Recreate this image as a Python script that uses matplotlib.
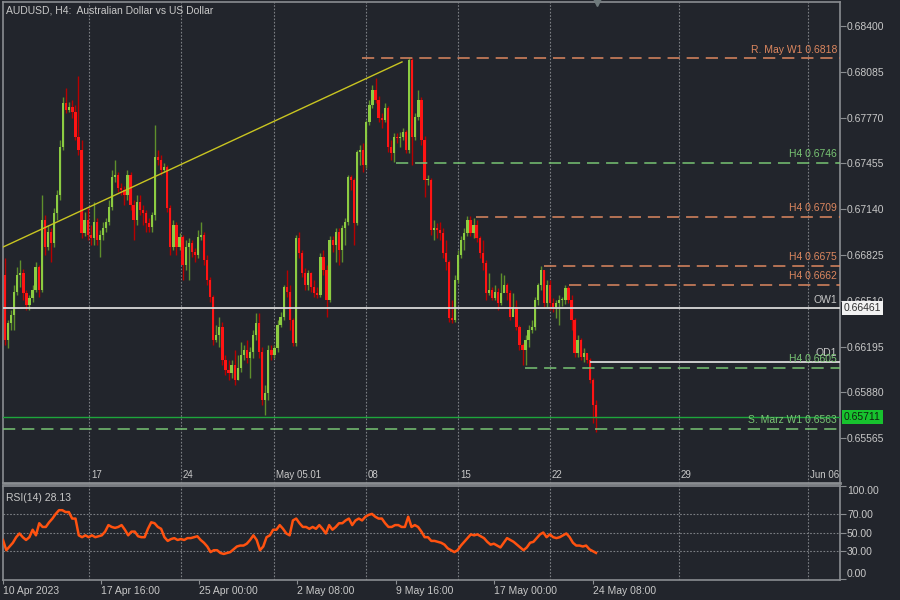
import numpy as np
import matplotlib
matplotlib.use("Agg")
import matplotlib.pyplot as plt
import matplotlib.transforms as mtransforms

plt.rcParams['font.family'] = ['Liberation Sans', 'DejaVu Sans']

# AUDUSD H4 candles, 10 Apr - 24 May 2023
first_open = 0.66688
closes = [
    0.66241, 0.66358, 0.66413, 0.66571, 0.66688, 0.66702, 0.66564, 0.66482, 0.66530, 0.66585,
    0.66743, 0.66585, 0.67066, 0.66880, 0.66984, 0.66908, 0.67114, 0.67238, 0.67568, 0.67871,
    0.67822, 0.67843, 0.67809, 0.67637, 0.67547, 0.66977, 0.67066, 0.66963, 0.66942, 0.67052,
    0.66929, 0.66963, 0.67011, 0.67052, 0.67155, 0.67362, 0.67375, 0.67286, 0.67272, 0.67238,
    0.67375, 0.67169, 0.67066, 0.67190, 0.67135, 0.67114, 0.67045, 0.67018, 0.67100, 0.67499,
    0.67479, 0.67410, 0.67431, 0.67149, 0.66880, 0.67032, 0.66880, 0.66949, 0.66757, 0.66880,
    0.66908, 0.66846, 0.66825, 0.66949, 0.66963, 0.66791, 0.66654, 0.66537, 0.66241, 0.66275,
    0.66330, 0.66103, 0.66035, 0.66014, 0.66069, 0.65966, 0.66048, 0.66138, 0.66172, 0.66117,
    0.66158, 0.66275, 0.66358, 0.66158, 0.65828, 0.65877, 0.66172, 0.66138, 0.66186, 0.66344,
    0.66399, 0.66605, 0.66571, 0.66379, 0.66220, 0.66942, 0.66839, 0.66702, 0.66619, 0.66702,
    0.66605, 0.66564, 0.66550, 0.66812, 0.66722, 0.66516, 0.66929, 0.66894, 0.66984, 0.66860,
    0.67011, 0.67052, 0.67362, 0.67341, 0.67045, 0.67534, 0.67547, 0.67444, 0.67740, 0.67857,
    0.67960, 0.67891, 0.67767, 0.67754, 0.67836, 0.67568, 0.67527, 0.67637, 0.67630, 0.67637,
    0.67671, 0.67547, 0.68166, 0.67637, 0.67774, 0.67891, 0.67616, 0.67341, 0.67341, 0.66997,
    0.67011, 0.66997, 0.66977, 0.66839, 0.66777, 0.66392, 0.66379, 0.66654, 0.66825, 0.66929,
    0.66977, 0.67066, 0.66977, 0.67032, 0.66942, 0.66839, 0.66770, 0.66564, 0.66585, 0.66530,
    0.66571, 0.66495, 0.66564, 0.66619, 0.66564, 0.66399, 0.66468, 0.66330, 0.66207, 0.66172,
    0.66241, 0.66310, 0.66330, 0.66516, 0.66619, 0.66722, 0.66495, 0.66619, 0.66495, 0.66468,
    0.66495, 0.66516, 0.66516, 0.66598, 0.66516, 0.66379, 0.66152, 0.66241, 0.66124, 0.66152,
    0.66103, 0.65966, 0.65794, 0.65711,
]
highs = [
    0.66805, 0.66379, 0.66447, 0.66619, 0.66743, 0.66791, 0.66729, 0.66585, 0.66550, 0.66619,
    0.66777, 0.66757, 0.67238, 0.67100, 0.67032, 0.67011, 0.67149, 0.67272, 0.67616, 0.67912,
    0.67974, 0.67877, 0.67891, 0.67857, 0.68056, 0.67616, 0.67121, 0.67149, 0.67032, 0.67190,
    0.67080, 0.66997, 0.67052, 0.67080, 0.67204, 0.67410, 0.67479, 0.67396, 0.67321, 0.67300,
    0.67410, 0.67396, 0.67204, 0.67238, 0.67238, 0.67169, 0.67135, 0.67080, 0.67121, 0.67719,
    0.67547, 0.67513, 0.67458, 0.67444, 0.67169, 0.67066, 0.67052, 0.66977, 0.66963, 0.66929,
    0.66942, 0.66929, 0.66874, 0.66997, 0.67052, 0.66984, 0.66825, 0.66674, 0.66550, 0.66344,
    0.66399, 0.66365, 0.66138, 0.66103, 0.66103, 0.66172, 0.66138, 0.66227, 0.66207, 0.66241,
    0.66193, 0.66310, 0.66427, 0.66427, 0.66193, 0.65932, 0.66207, 0.66207, 0.66207, 0.66379,
    0.66433, 0.66619, 0.66722, 0.66619, 0.66392, 0.66963, 0.66984, 0.66860, 0.66736, 0.66722,
    0.66709, 0.66654, 0.66605, 0.66839, 0.66860, 0.66757, 0.66956, 0.66956, 0.67011, 0.67011,
    0.67032, 0.67080, 0.67375, 0.67375, 0.67355, 0.67547, 0.67582, 0.67596, 0.67754, 0.67891,
    0.67994, 0.68042, 0.67919, 0.67802, 0.67871, 0.67850, 0.67616, 0.67664, 0.67664, 0.67671,
    0.67699, 0.67685, 0.68180, 0.68180, 0.67802, 0.67960, 0.67912, 0.67644, 0.67375, 0.67355,
    0.67066, 0.67045, 0.67052, 0.67011, 0.66929, 0.66791, 0.66516, 0.66688, 0.66860, 0.66956,
    0.67011, 0.67094, 0.67094, 0.67080, 0.67066, 0.66956, 0.66929, 0.66791, 0.66702, 0.66605,
    0.66619, 0.66598, 0.66702, 0.66688, 0.66633, 0.66585, 0.66564, 0.66516, 0.66344, 0.66220,
    0.66275, 0.66344, 0.66379, 0.66537, 0.66633, 0.66750, 0.66722, 0.66654, 0.66654, 0.66530,
    0.66516, 0.66550, 0.66537, 0.66619, 0.66612, 0.66550, 0.66392, 0.66275, 0.66255, 0.66186,
    0.66152, 0.66117, 0.65980, 0.65828,
]
lows = [
    0.66207, 0.66186, 0.66310, 0.66310, 0.66550, 0.66605, 0.66516, 0.66447, 0.66447, 0.66502,
    0.66571, 0.66537, 0.66571, 0.66825, 0.66860, 0.66777, 0.66880, 0.67066, 0.67204, 0.67547,
    0.67802, 0.67809, 0.67767, 0.67616, 0.67513, 0.66942, 0.66956, 0.66929, 0.66894, 0.66894,
    0.66894, 0.66812, 0.66929, 0.66984, 0.67032, 0.67135, 0.67327, 0.67259, 0.67238, 0.67169,
    0.67204, 0.67135, 0.66929, 0.67032, 0.67100, 0.67032, 0.66984, 0.66984, 0.66984, 0.67066,
    0.67444, 0.67375, 0.67396, 0.67121, 0.66825, 0.66860, 0.66825, 0.66860, 0.66654, 0.66722,
    0.66654, 0.66812, 0.66777, 0.66805, 0.66929, 0.66757, 0.66619, 0.66502, 0.66207, 0.66227,
    0.66193, 0.66069, 0.66000, 0.65966, 0.65980, 0.65932, 0.65966, 0.66021, 0.66103, 0.66083,
    0.65980, 0.66117, 0.66241, 0.66117, 0.65794, 0.65725, 0.65828, 0.66103, 0.66117, 0.66158,
    0.66330, 0.66379, 0.66537, 0.66310, 0.66200, 0.66200, 0.66805, 0.66674, 0.66585, 0.66585,
    0.66571, 0.66537, 0.66530, 0.66537, 0.66688, 0.66399, 0.66502, 0.66846, 0.66777, 0.66757,
    0.66777, 0.66894, 0.67032, 0.67272, 0.66894, 0.67032, 0.67444, 0.67396, 0.67424, 0.67719,
    0.67836, 0.67871, 0.67740, 0.67699, 0.67740, 0.67534, 0.67479, 0.67465, 0.67596, 0.67568,
    0.67616, 0.67527, 0.67527, 0.67444, 0.67616, 0.67754, 0.67582, 0.67224, 0.67307, 0.66963,
    0.66929, 0.66942, 0.66929, 0.66805, 0.66722, 0.66365, 0.66358, 0.66365, 0.66633, 0.66805,
    0.66860, 0.66956, 0.66956, 0.66942, 0.66915, 0.66805, 0.66722, 0.66516, 0.66550, 0.66516,
    0.66516, 0.66447, 0.66482, 0.66571, 0.66516, 0.66379, 0.66433, 0.66310, 0.66172, 0.66069,
    0.66069, 0.66193, 0.66289, 0.66310, 0.66482, 0.66585, 0.66468, 0.66468, 0.66447, 0.66433,
    0.66392, 0.66344, 0.66475, 0.66489, 0.66495, 0.66310, 0.66124, 0.66124, 0.66103, 0.66090,
    0.66083, 0.65945, 0.65670, 0.65608,
]
opens = [first_open] + closes[:-1]

# RSI(14), sampled left to right along the sub-window
rsi = [
    42, 31, 35, 39, 45, 49, 45, 42, 45, 53, 47, 60, 56, 56, 61, 65, 70, 74, 74, 72,
    72, 65, 65, 47, 45, 47, 45, 47, 45, 46, 47, 51, 58, 56, 55, 56, 58, 53, 47, 51,
    51, 46, 45, 45, 54, 61, 60, 56, 54, 45, 41, 43, 44, 42, 43, 42, 44, 44, 45, 46,
    42, 39, 35, 29, 31, 31, 28, 27, 28, 29, 32, 35, 36, 36, 38, 42, 47, 42, 31, 35,
    45, 47, 53, 53, 58, 54, 49, 47, 63, 65, 60, 56, 56, 54, 56, 54, 58, 54, 49, 58,
    53, 56, 60, 60, 63, 65, 58, 63, 65, 63, 67, 69, 70, 67, 65, 65, 60, 56, 56, 58,
    58, 56, 56, 67, 56, 58, 56, 51, 45, 45, 41, 41, 40, 39, 37, 33, 31, 29, 31, 36,
    40, 44, 48, 47, 48, 46, 44, 40, 37, 38, 36, 34, 39, 44, 42, 40, 37, 34, 31, 34,
    39, 40, 44, 48, 50, 45, 48, 45, 44, 45, 47, 49, 45, 39, 36, 36, 35, 36, 32, 30,
    28.13,
]

# horizontal levels: price, label, colour key, first pixel column
level_prices = [0.6818, 0.6746, 0.6709, 0.6675, 0.6662, 0.6605, 0.6563]
level_labels = ["R. May W1 0.6818", "H4 0.6746", "H4 0.6709", "H4 0.6675",
                "H4 0.6662", "H4 0.6605", "S. Marz W1 0.6563"]
level_kinds = ["r", "s", "r", "r", "r", "s", "s"]
level_start_px = [362, 396, 476, 544, 569, 525, 3]

ow1, od1, bid = 0.66461, 0.66090, 0.65711
trend_px = [3, 402]
trend_prices = [0.66880, 0.68153]

price_ticks = [0.68400, 0.68085, 0.67770, 0.67455, 0.67140, 0.66825, 0.66510,
               0.66195, 0.65880, 0.65565]
week_grid_px = [89, 181, 274, 366, 458, 550, 679, 808]
week_labels = ["17", "24", "May 05.01", "08", "15", "22", "29", "Jun 06.00"]
time_tick_px = [3, 101, 199, 297, 396, 494, 593]
time_labels = ["10 Apr 2023", "17 Apr 16:00", "25 Apr 00:00", "2 May 08:00",
               "9 May 16:00", "17 May 00:00", "24 May 08:00"]

bg = '#22252c'
fg = '#c8c8c8'
frame = '#8a8d91'
grid_c = '#7c7f84'
orange = '#dd875f'
green_lv = '#78c473'

n = len(closes)
dx = (596 - 5) / (n - 1)


def px2bar(x):
    return (np.asarray(x, dtype=float) - 5) / dx


xlim = (px2bar(3), px2bar(840))
fig = plt.figure(figsize=(9, 6), dpi=100, facecolor=bg)
ax = fig.add_axes([3 / 900, 1 - 483 / 600, 837 / 900, 481 / 600], facecolor=bg)
ax2 = fig.add_axes([3 / 900, 1 - 580 / 600, 837 / 900, 94 / 600], facecolor=bg)

for a in (ax, ax2):
    for s in a.spines.values():
        s.set_color(frame)
        s.set_linewidth(1.2)
    a.set_xlim(*xlim)
    a.yaxis.tick_right()
    a.tick_params(axis='y', direction='out', length=4, color=frame,
                  labelcolor=fg, labelsize=7.5, pad=1)
    for gx in week_grid_px:
        a.axvline(px2bar(gx), color=grid_c, lw=0.8, ls=(0, (1.5, 1.5)), zorder=0)
ax.spines['bottom'].set_linewidth(2)

ax.set_ylim(0.652577, 0.685650)
ax.set_xticks([])
ax.set_yticks(price_ticks)
ax.set_yticklabels(["%.5f" % p for p in price_ticks])

# candles
o = np.array(opens)
c = np.array(closes)
h = np.array(highs)
l = np.array(lows)
idx = np.arange(n)
up = c >= o
ax.vlines(idx[up], l[up], h[up], color='#5f8f2c', lw=1.0, zorder=2)
ax.vlines(idx[~up], l[~up], h[~up], color='#b80000', lw=1.0, zorder=2)
body = np.where(np.abs(c - o) < 0.00004, 0.00004, c - o)
ax.bar(idx[up], body[up], bottom=o[up], width=0.74, color='#8ccc42', lw=0, zorder=3)
ax.bar(idx[~up], body[~up], bottom=o[~up], width=0.74, color='#ff1414', lw=0, zorder=3)

# trend line
ax.plot(px2bar(trend_px), trend_prices, color='#c9c521', lw=1, zorder=4)

# levels
for p, lab, k, sx in zip(level_prices, level_labels, level_kinds, level_start_px):
    col = orange if k == "r" else green_lv
    ax.hlines(p, px2bar(sx), xlim[1], color=col, lw=1.1, ls=(0, (8, 4.5)), zorder=4)
    ax.annotate(lab, (xlim[1], p), xytext=(-2, 2.5), textcoords='offset points',
                ha='right', va='bottom', color=col, fontsize=7.5, zorder=6)

ax.axhline(ow1, color='#d9d9d9', lw=1.3, zorder=4)
ax.annotate("OW1", (xlim[1], ow1), xytext=(-2, 2.5), textcoords='offset points',
            ha='right', va='bottom', color=fg, fontsize=7.5)
ax.hlines(od1, px2bar(590), xlim[1], color='#d9d9d9', lw=1.3, zorder=4)
ax.annotate("OD1", (xlim[1], od1), xytext=(-2, 2.5), textcoords='offset points',
            ha='right', va='bottom', color=fg, fontsize=7.5)
ax.axhline(bid, color='#1ea63c', lw=1, zorder=4)

# price boxes on the right scale
ytr = mtransforms.blended_transform_factory(ax.transAxes, ax.transData)
ax.text(1.0045, ow1, "%.5f" % ow1, transform=ytr, ha='left', va='center',
        fontsize=7.5, color='#303030', clip_on=False, zorder=10,
        bbox=dict(boxstyle='square,pad=0.18', fc='#f2f2f2', ec='none'))
ax.text(1.0045, bid, "%.5f" % bid, transform=ytr, ha='left', va='center',
        fontsize=7.5, color='#102010', clip_on=False, zorder=10,
        bbox=dict(boxstyle='square,pad=0.18', fc='#17c22e', ec='none'))

# week labels inside the main window
xtr = mtransforms.blended_transform_factory(ax.transData, ax.transAxes)
for gx, lab in zip(week_grid_px, week_labels):
    ax.text(px2bar(gx + 2), 0.006, lab, transform=xtr, ha='left', va='bottom',
            color=fg, fontsize=7, clip_on=True)

ax.text(0.004, 0.992, "AUDUSD, H4:  Australian Dollar vs US Dollar",
        transform=ax.transAxes, ha='left', va='top', color=fg, fontsize=7.5)
ax.plot([px2bar(597)], [1.0], marker='v', ms=6, color='#6f7a7c', transform=xtr,
        clip_on=False, zorder=10)

# RSI window
ax2.set_ylim(-1, 100)
rsi_x = np.linspace(px2bar(3), n - 1, len(rsi))
for lvl in (30, 50, 70):
    ax2.axhline(lvl, color=grid_c, lw=0.8, ls=(0, (1.5, 1.5)), zorder=0)
ax2.plot(rsi_x, rsi, color='#ff5210', lw=1.8, zorder=3)
ax2.set_yticks([0, 30, 50, 70, 100])
ax2.set_yticklabels(["0.00", "30.00", "50.00", "70.00", "100.00"])
tl = ax2.get_yticklabels()
tl[0].set_va('bottom')
tl[-1].set_va('top')
ax2.text(0.004, 0.93, "RSI(14) %.2f" % rsi[-1], transform=ax2.transAxes,
         ha='left', va='top', color=fg, fontsize=7.5)

ax2.set_xticks(px2bar(time_tick_px))
ax2.set_xticklabels(time_labels)
ax2.tick_params(axis='x', direction='out', length=3, color=frame,
                labelcolor=fg, labelsize=7.5, pad=1)
for t in ax2.get_xticklabels():
    t.set_ha('left')

fig.savefig('out.png', dpi=100, facecolor=bg)
